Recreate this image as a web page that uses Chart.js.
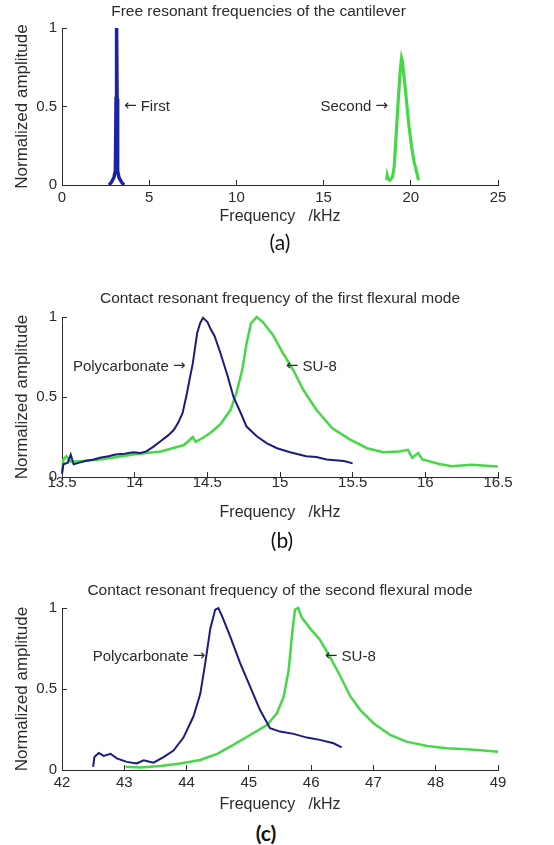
<!DOCTYPE html>
<html>
<head>
<meta charset="utf-8">
<title>Resonant frequencies of the cantilever</title>
<script src="https://cdn.jsdelivr.net/npm/chart.js@4.4.1/dist/chart.umd.min.js"></script>
<style>
  body { margin: 0; background: #fff; }
  .wrap { position: relative; width: 554px; height: 845px; }
  canvas { position: absolute; left: 0; }
  .tag { position: absolute; width: 60px; text-align: center; font-family: Lato, 'Open Sans', sans-serif;
         font-size: 21px; line-height: 24px; color: #111; }
</style>
</head>
<body>
<div class="wrap">
  <canvas id="chartA" width="554" height="230" style="top:0"></canvas>
  <div class="tag" style="left:250px; top:230px">(a)</div>
  <canvas id="chartB" width="554" height="270" style="top:260px"></canvas>
  <div class="tag" style="left:252px; top:528px">(b)</div>
  <canvas id="chartC" width="554" height="250" style="top:570px"></canvas>
  <div class="tag" style="left:236px; top:821px"><b>(c)</b></div>
</div>
<script>
// tick values
const yTicks = [0, 0.5, 1];
const aTicks = [0, 5, 10, 15, 20, 25];
const bTicks = [13.5, 14, 14.5, 15, 15.5, 16, 16.5];
const cTicks = [42, 43, 44, 45, 46, 47, 48, 49];

// (a) free resonance, kHz / normalized amplitude
const aFirstFreq = [2.7, 2.85, 2.98, 3.06, 3.1, 3.13, 3.16, 3.19, 3.26, 3.4, 3.55];
const aFirstAmp  = [0.0, 0.02, 0.05, 0.09, 0.55, 1.0, 0.55, 0.09, 0.05, 0.02, 0.0];
const aSecondFreq = [18.62, 18.65, 18.7, 18.8, 18.95, 19.05, 19.15, 19.28, 19.4, 19.47,
                     19.52, 19.6, 19.68, 19.8, 19.9, 20.05, 20.2, 20.3, 20.4, 20.45];
const aSecondAmp  = [0.03, 0.06, 0.04, 0.03, 0.05, 0.12, 0.3, 0.54, 0.74, 0.81,
                     0.79, 0.7, 0.62, 0.48, 0.37, 0.24, 0.14, 0.1, 0.05, 0.03];

// (b) first flexural mode in contact
const bPolyFreq = [13.5, 13.51, 13.54, 13.56, 13.58, 13.62, 13.66, 13.72, 13.76, 13.82, 13.87, 13.93,
                   13.99, 14.04, 14.08, 14.13, 14.18, 14.23, 14.27, 14.3, 14.33, 14.36, 14.38, 14.4,
                   14.43, 14.45, 14.47, 14.5, 14.52, 14.55, 14.59, 14.64, 14.68, 14.73, 14.77, 14.84,
                   14.91, 14.98, 15.07, 15.18, 15.25, 15.32, 15.38, 15.44, 15.5];
const bPolyAmp  = [0.02, 0.08, 0.09, 0.14, 0.08, 0.09, 0.1, 0.11, 0.12, 0.13, 0.14, 0.145,
                   0.155, 0.15, 0.16, 0.19, 0.225, 0.26, 0.295, 0.34, 0.4, 0.525, 0.62, 0.71,
                   0.9, 0.96, 0.995, 0.97, 0.93, 0.88, 0.775, 0.63, 0.5, 0.4, 0.315, 0.255,
                   0.21, 0.18, 0.155, 0.13, 0.125, 0.11, 0.105, 0.1, 0.085];
const bSu8Freq = [13.5, 13.51, 13.53, 13.56, 13.64, 13.76, 13.88, 13.99, 14.08, 14.18, 14.26,
                  14.34, 14.4, 14.42, 14.47, 14.52, 14.59, 14.66, 14.7, 14.74, 14.77, 14.8,
                  14.84, 14.88, 14.95, 15.02, 15.09, 15.16, 15.25, 15.36, 15.48, 15.6, 15.71,
                  15.82, 15.88, 15.91, 15.95, 15.98, 16.09, 16.18, 16.32, 16.42, 16.5];
const bSu8Amp  = [0.03, 0.11, 0.13, 0.095, 0.1, 0.11, 0.125, 0.14, 0.15, 0.16, 0.18,
                  0.2, 0.25, 0.22, 0.245, 0.275, 0.33, 0.42, 0.525, 0.67, 0.835, 0.96,
                  1.0, 0.97, 0.89, 0.775, 0.67, 0.545, 0.42, 0.305, 0.235, 0.18, 0.155,
                  0.16, 0.17, 0.12, 0.15, 0.11, 0.083, 0.067, 0.077, 0.07, 0.065];

// (c) second flexural mode in contact
const cPolyFreq = [42.5, 42.52, 42.59, 42.67, 42.78, 42.88, 43.04, 43.2, 43.31, 43.47, 43.63,
                   43.79, 43.95, 44.11, 44.22, 44.3, 44.38, 44.46, 44.51, 44.57, 44.7, 44.86,
                   45.02, 45.18, 45.34, 45.5, 45.72, 45.93, 46.14, 46.36, 46.49];
const cPolyAmp  = [0.02, 0.08, 0.105, 0.087, 0.1, 0.072, 0.05, 0.04, 0.06, 0.045, 0.08,
                   0.12, 0.2, 0.33, 0.47, 0.66, 0.87, 0.99, 1.0, 0.95, 0.825, 0.66,
                   0.515, 0.37, 0.258, 0.237, 0.223, 0.2, 0.186, 0.165, 0.14];
const cSu8Freq = [43.02, 43.26, 43.58, 43.9, 44.22, 44.49, 44.75, 45.02, 45.29, 45.45, 45.56,
                  45.64, 45.69, 45.74, 45.79, 45.85, 45.98, 46.14, 46.3, 46.47, 46.63, 46.79,
                  47.0, 47.27, 47.53, 47.86, 48.18, 48.5, 48.77, 49.0];
const cSu8Amp  = [0.02, 0.016, 0.025, 0.04, 0.062, 0.1, 0.155, 0.216, 0.278, 0.35, 0.454,
                  0.62, 0.825, 0.99, 1.0, 0.94, 0.876, 0.804, 0.7, 0.577, 0.454, 0.37,
                  0.289, 0.216, 0.175, 0.148, 0.134, 0.128, 0.12, 0.113];

const ink = '#2b2b2b';
const face = "'Liberation Sans', Arial, sans-serif";
const navy = '#1b1b80';
const green = '#47d847';

const pts = (xs, ys) => xs.map((x, i) => ({ x: x, y: ys[i] }));

// arrows come from DejaVu, Liberation's are tiny
const fontFor = s => (/[\u2190\u2192]/.test(s) ? '15px "DejaVu Sans"' : '15px ' + face);

function drawNote(ctx, text, x, y, align) {
  const parts = text.split(/([\u2190\u2192])/).filter(Boolean);
  const widths = parts.map(s => { ctx.font = fontFor(s); return ctx.measureText(s).width; });
  const total = widths.reduce((a, b) => a + b, 0);
  let cx = align === 'right' ? x - total : x;
  ctx.textAlign = 'left';
  parts.forEach((s, i) => {
    ctx.font = fontFor(s);
    ctx.fillText(s, cx, y);
    cx += widths[i];
  });
}

// text labels with arrows, anchored in data units
function notes(items) {
  return {
    id: 'notes',
    afterDatasetsDraw(chart) {
      const { ctx, scales } = chart;
      ctx.save();
      ctx.fillStyle = ink;
      ctx.textBaseline = 'middle';
      items.forEach(n => {
        drawNote(ctx, n.text, scales.x.getPixelForValue(n.x), scales.y.getPixelForValue(n.y), n.align);
      });
      ctx.restore();
    }
  };
}

function makeChart(id, p) {
  const axisFont = { family: face, size: 15 };
  return new Chart(document.getElementById(id), {
    type: 'line',
    data: {
      datasets: p.series.map(s => ({
        data: pts(s.x, s.y),
        borderColor: s.color,
        borderWidth: s.width,
        pointRadius: 0,
        tension: 0,
        fill: false,
        clip: false
      }))
    },
    options: {
      responsive: false,
      animation: false,
      events: [],
      layout: { padding: { left: p.padLeft, right: 56, top: 0, bottom: 0 } },
      plugins: {
        legend: { display: false },
        tooltip: { enabled: false },
        title: {
          display: true,
          text: p.title,
          fullSize: p.titleFull,
          color: ink,
          font: { family: face, size: 15.5, weight: 'normal' },
          padding: p.titlePad
        }
      },
      scales: {
        x: {
          type: 'linear',
          min: p.ticks[0],
          max: p.ticks[p.ticks.length - 1],
          afterBuildTicks: s => { s.ticks = p.ticks.map(v => ({ value: v })); },
          afterFit: s => { s.height = p.xHeight; },
          ticks: { autoSkip: false, maxRotation: 0, padding: p.xTickPad, color: ink, font: axisFont,
                   callback: v => String(v) },
          grid: { drawOnChartArea: false, tickLength: -5, color: ink },
          border: { color: ink },
          title: { display: true, text: 'Frequency   /kHz', color: ink,
                   font: { family: face, size: 16 }, padding: { top: 0, bottom: p.xTitlePad } }
        },
        y: {
          min: 0,
          max: 1,
          afterBuildTicks: s => { s.ticks = yTicks.map(v => ({ value: v })); },
          afterFit: s => { s.width = 62 - p.padLeft; },
          ticks: { padding: 10, color: ink, font: axisFont, callback: v => String(v) },
          grid: { drawOnChartArea: false, tickLength: -5, color: ink },
          border: { color: ink },
          title: { display: true, text: 'Normalized amplitude', color: ink,
                   font: { family: face, size: 17 }, padding: { top: 22 - p.padLeft - 10.2, bottom: 0 } }
        }
      }
    },
    plugins: [notes(p.notes)]
  });
}

makeChart('chartA', {
  title: 'Free resonant frequencies of the cantilever',
  titleFull: true, padLeft: 19,
  titlePad: { top: 2.7, bottom: 6.7 },
  ticks: aTicks, xHeight: 45, xTickPad: 9, xTitlePad: 3.4,
  series: [
    { x: aFirstFreq, y: aFirstAmp, color: '#1c24a4', width: 3.5 },
    { x: aSecondFreq, y: aSecondAmp, color: green, width: 3.2 }
  ],
  notes: [
    { text: '\u2190 First', x: 3.55, y: 0.5, align: 'left' },
    { text: 'Second \u2192', x: 18.7, y: 0.5, align: 'right' }
  ]
});

makeChart('chartB', {
  title: 'Contact resonant frequency of the first flexural mode',
  titleFull: false, padLeft: 0,
  titlePad: { top: 29.7, bottom: 8.7 },
  ticks: bTicks, xHeight: 53, xTickPad: 2, xTitlePad: 7.4,
  series: [
    { x: bPolyFreq, y: bPolyAmp, color: navy, width: 2 },
    { x: bSu8Freq, y: bSu8Amp, color: green, width: 2.5 }
  ],
  notes: [
    { text: 'Polycarbonate \u2192', x: 14.35, y: 0.69, align: 'right' },
    { text: '\u2190 SU-8', x: 15.04, y: 0.69, align: 'left' }
  ]
});

makeChart('chartC', {
  title: 'Contact resonant frequency of the second flexural mode',
  titleFull: false, padLeft: 0,
  titlePad: { top: 11.7, bottom: 7.7 },
  ticks: cTicks, xHeight: 50, xTickPad: 9, xTitlePad: 5.4,
  series: [
    { x: cPolyFreq, y: cPolyAmp, color: navy, width: 2 },
    { x: cSu8Freq, y: cSu8Amp, color: green, width: 2.5 }
  ],
  notes: [
    { text: 'Polycarbonate \u2192', x: 44.3, y: 0.7, align: 'right' },
    { text: '\u2190 SU-8', x: 46.22, y: 0.7, align: 'left' }
  ]
});
</script>
</body>
</html>
